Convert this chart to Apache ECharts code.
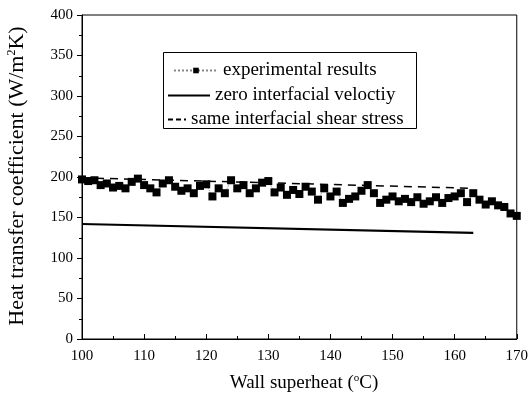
<!DOCTYPE html>
<html><head><meta charset="utf-8">
<script src="https://cdn.jsdelivr.net/npm/echarts@6/dist/echarts.min.js"></script>
<style>html,body{margin:0;padding:0;background:#fff}#c{width:531px;height:403px}</style>
</head><body><div id="c"></div>
<script>
const expX = [100,101,102,103,104,105,106,107,108,109,110,111,112,113,114,115,116,117,118,119,120,121,122,123,124,125,126,127,128,129,130,131,132,133,134,135,136,137,138,139,140,141,142,143,144,145,146,147,148,149,150,151,152,153,154,155,156,157,158,159,160,161,162,163,164,165,166,167,168,169,170];
const expY = [197,195,196,190,192,187,189,186,194,198,190,186,181,192,196,188,183,186,180,189,191,176,186,180,196,186,190,180,186,193,195,181,187,178,184,179,188,182,172,186,176,182,168,173,176,183,190,180,168,172,176,170,173,169,175,167,170,175,168,174,176,180,169,180,172,166,170,165,163,155,152];
const zeroVelX = [100,163];
const zeroVelY = [142,131];
const sameShearX = [100,163];
const sameShearY = [199,186];
const seriesNames = ['experimental results','zero interfacial veloctiy','same interfacial shear stress'];
const xTicks = [100,110,120,130,140,150,160,170];
const yTicks = [0,50,100,150,200,250,300,350,400];

const chart = echarts.init(document.getElementById('c'));
const font = '"Liberation Serif", "Times New Roman", serif';
const legTxt = {fontFamily:font,fontSize:19,color:'#000'};
chart.setOption({
  animation:false,
  textStyle:{fontFamily:font,color:'#000'},
  grid:{left:82,right:14,top:15,bottom:64,show:true,borderColor:'#000',borderWidth:1},
  xAxis:{type:'value',min:xTicks[0],max:xTicks[xTicks.length-1],interval:10,
    axisLine:{lineStyle:{color:'#000',width:1}},
    axisTick:{inside:true,length:5,lineStyle:{color:'#000'}},
    minorTick:{show:true,splitNumber:2,length:3,lineStyle:{color:'#000'}},
    axisLabel:{fontFamily:font,fontSize:15,color:'#000',margin:10},
    splitLine:{show:false}},
  yAxis:{type:'value',min:yTicks[0],max:yTicks[yTicks.length-1],interval:50,
    axisLine:{show:true,lineStyle:{color:'#000',width:1}},
    axisTick:{inside:false,length:5,lineStyle:{color:'#000'}},
    minorTick:{show:true,splitNumber:2,length:3,lineStyle:{color:'#000'}},
    axisLabel:{fontFamily:font,fontSize:15,color:'#000',margin:9},
    splitLine:{show:false}},
  legend:[
    {left:173,top:61,padding:0,itemWidth:44,itemHeight:7,textStyle:legTxt,
     data:[seriesNames[0]]},
    {left:167,top:86,padding:0,itemWidth:42,itemHeight:10,textStyle:legTxt,
     itemStyle:{opacity:0},data:[seriesNames[1]]},
    {left:167,top:110,padding:0,itemWidth:18,itemHeight:10,textStyle:legTxt,
     itemStyle:{opacity:0},lineStyle:{type:[5,3]},data:[seriesNames[2]]}
  ],
  graphic:[
    {type:'rect',shape:{x:163.5,y:52.5,width:253,height:76},
     style:{fill:'none',stroke:'#000',lineWidth:1},z:100},
    {type:'text',x:304,y:383,style:{
      text:'{n|Wall superheat (}{s|o}{n|C)}',align:'center',verticalAlign:'middle',
      rich:{n:{fontFamily:font,fontSize:19,fill:'#000'},s:{fontFamily:font,fontSize:11,fill:'#000',padding:[0,0,10,0]}}}},
    {type:'text',x:17,y:176,rotation:Math.PI/2,style:{
      text:'{n|Heat transfer coefficient (W/m}{s|2}{n|K)}',align:'center',verticalAlign:'middle',
      rich:{n:{fontFamily:font,fontSize:22,fill:'#000'},s:{fontFamily:font,fontSize:12,fill:'#000',padding:[0,0,10,0]}}}}
  ],
  series:[
    {name:seriesNames[0],type:'line',data:expX.map((x,i)=>[x,expY[i]]),
     symbol:'rect',symbolSize:8,showSymbol:true,
     itemStyle:{color:'#000'},lineStyle:{color:'#888',width:1,type:'dotted'}},
    {name:seriesNames[1],type:'line',data:zeroVelX.map((x,i)=>[x,zeroVelY[i]]),symbol:'none',
     lineStyle:{color:'#000',width:2.2,type:'solid'},itemStyle:{color:'#000'}},
    {name:seriesNames[2],type:'line',data:sameShearX.map((x,i)=>[x,sameShearY[i]]),symbol:'none',
     lineStyle:{color:'#000',width:1.5,type:[8,6]},itemStyle:{color:'#000'}}
  ]
});
</script></body></html>
